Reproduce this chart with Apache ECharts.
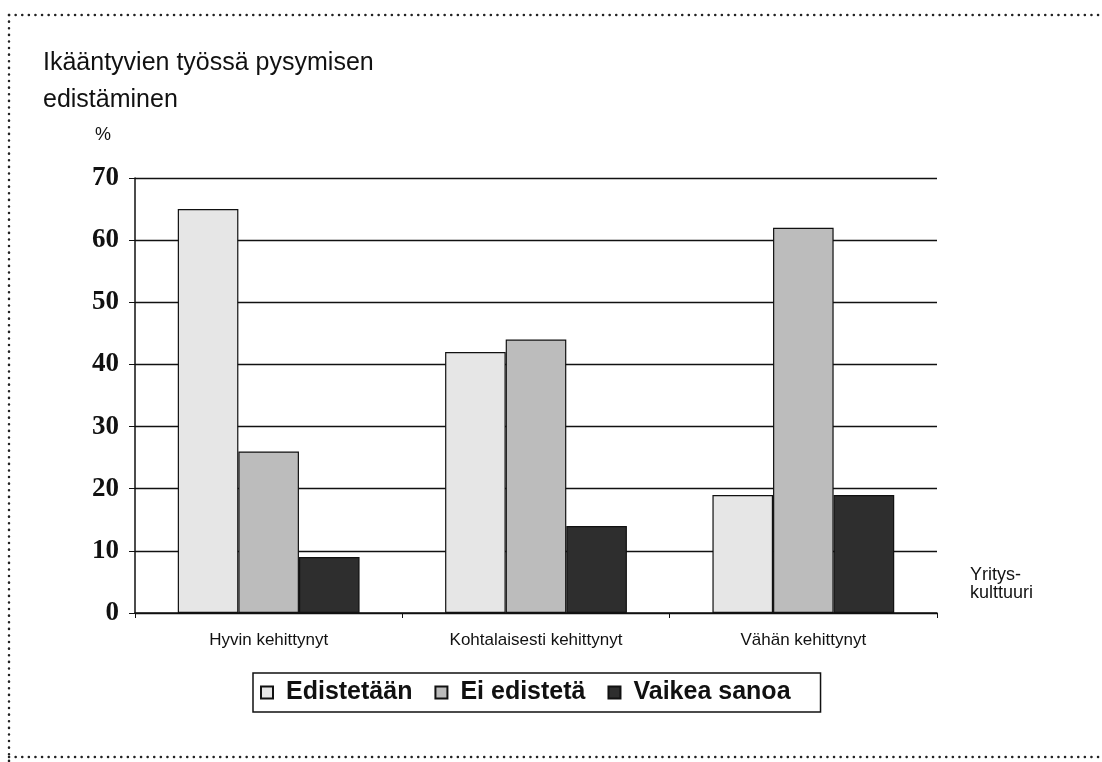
<!DOCTYPE html>
<html>
<head>
<meta charset="utf-8">
<script src="https://cdn.jsdelivr.net/npm/echarts@6/dist/echarts.min.js"></script>
<style>
  html, body { margin: 0; padding: 0; background: #fff; }
  #chart { width: 1102px; height: 762px; }
</style>
</head>
<body>
<div id="chart"></div>
<script>
const categories = ['Hyvin kehittynyt', 'Kohtalaisesti kehittynyt', 'Vähän kehittynyt']
const edistetaan = [65, 42, 19]
const eiEdisteta = [26, 44, 62]
const vaikeaSanoa = [9, 14, 19]
const yTicks = { min: 0, max: 70, interval: 10 }

const chart = echarts.init(document.getElementById('chart'))

const barStyle = (color) => ({
  color: color,
  borderColor: '#111',
  borderWidth: 1.2
})

// dotted frame like the scanned page
const dot = { stroke: '#222', lineWidth: 2.5, lineDash: [0.1, 6.5], lineCap: 'round' }

const option = {
  animation: false,
  backgroundColor: '#fff',
  title: {
    text: 'Ikääntyvien työssä pysymisen\nedistäminen',
    left: 43,
    top: 45,
    padding: 0,
    textStyle: {
      fontFamily: 'Liberation Sans, Arial, sans-serif',
      fontSize: 25,
      fontWeight: 'normal',
      color: '#111',
      lineHeight: 37
    }
  },
  grid: {
    left: 135,
    right: 165,
    top: 178,
    bottom: 149
  },
  legend: {
    data: ['Edistetään', 'Ei edistetä', 'Vaikea sanoa'],
    left: 253,
    top: 673,
    padding: [7, 30, 7, 7],
    borderColor: '#111',
    borderWidth: 1.5,
    itemWidth: 12,
    itemHeight: 12,
    itemGap: 22,
    icon: 'rect',
    textStyle: {
      fontFamily: 'Liberation Sans, Arial, sans-serif',
      fontSize: 25,
      fontWeight: 'bold',
      color: '#111',
      padding: [0, 0, 0, 8]
    }
  },
  xAxis: {
    type: 'category',
    data: categories,
    axisLine: { lineStyle: { color: '#111', width: 1.5 } },
    axisTick: { show: true, length: 5, lineStyle: { color: '#111' } },
    axisLabel: {
      margin: 19,
      fontFamily: 'Liberation Sans Narrow, Arial Narrow, Liberation Sans, sans-serif',
      fontSize: 17,
      color: '#111'
    }
  },
  yAxis: {
    type: 'value',
    min: yTicks.min,
    max: yTicks.max,
    interval: yTicks.interval,
    name: '%',
    nameGap: 34,
    nameTextStyle: {
      fontFamily: 'Liberation Sans, Arial, sans-serif',
      fontSize: 18,
      color: '#111',
      align: 'right',
      padding: [0, 24, 0, 0]
    },
    axisLine: { show: true, lineStyle: { color: '#111', width: 1.5 } },
    axisTick: { show: true, length: 6, lineStyle: { color: '#111' } },
    splitLine: { show: true, lineStyle: { color: '#111', width: 1.3 } },
    axisLabel: {
      margin: 16,
      fontFamily: 'Liberation Serif, Times New Roman, serif',
      fontSize: 27,
      fontWeight: 'bold',
      color: '#111'
    }
  },
  series: [
    {
      name: 'Edistetään',
      type: 'bar',
      data: edistetaan,
      barGap: '0%',
      barCategoryGap: '32%',
      itemStyle: barStyle('#e6e6e6')
    },
    {
      name: 'Ei edistetä',
      type: 'bar',
      data: eiEdisteta,
      itemStyle: barStyle('#bcbcbc')
    },
    {
      name: 'Vaikea sanoa',
      type: 'bar',
      data: vaikeaSanoa,
      itemStyle: barStyle('#2e2e2e')
    }
  ],
  graphic: [
    {
      type: 'text',
      left: 970,
      top: 566,
      style: {
        text: 'Yritys-\nkulttuuri',
        fontFamily: 'Liberation Sans, Arial, sans-serif',
        fontSize: 18,
        lineHeight: 18,
        fill: '#111'
      }
    },
    { type: 'line', shape: { x1: 9, y1: 15, x2: 1102, y2: 15 }, style: dot },
    { type: 'line', shape: { x1: 9, y1: 15, x2: 9, y2: 762 }, style: dot },
    { type: 'line', shape: { x1: 9, y1: 757, x2: 1102, y2: 757 }, style: dot }
  ]
}

chart.setOption(option)
</script>
</body>
</html>
